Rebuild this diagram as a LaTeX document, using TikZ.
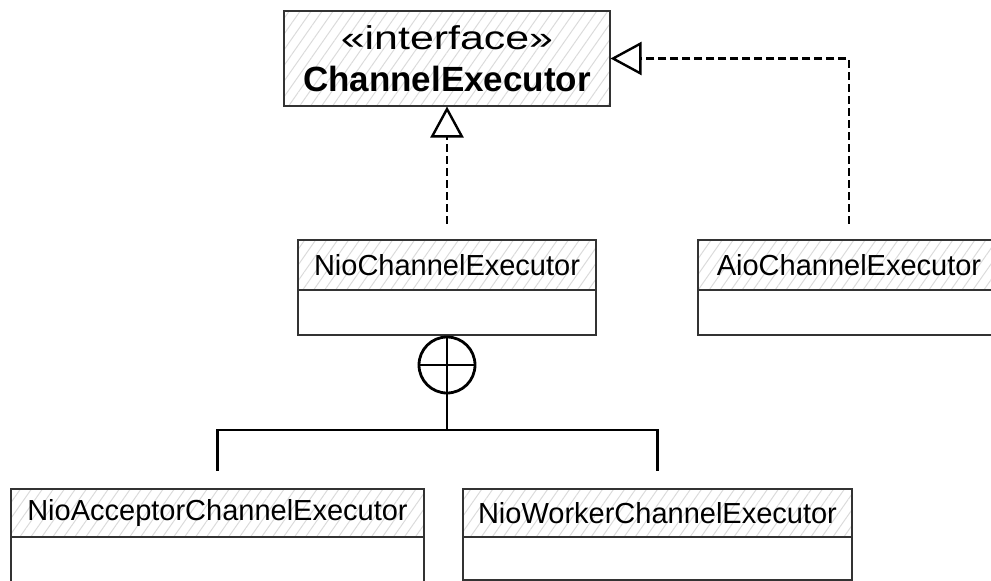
\documentclass[tikz,border=0pt]{standalone}
\usepackage{fontspec}
\setmainfont{Liberation Sans}
\usetikzlibrary{arrows.meta,patterns.meta}
\definecolor{edge}{HTML}{333333}
\tikzset{
  hdr/.style={draw=edge, line width=2.2pt, rectangle, inner sep=0pt,
    pattern={Lines[angle=55,distance=9pt,line width=1pt]}, pattern color=black!14,
    font=\fontsize{29}{32}\selectfont, text=black},
  bodybox/.style={draw=edge, line width=2.2pt, rectangle, inner sep=0pt, fill=white},
  realize/.style={draw=black, line width=2.2pt, dash pattern=on 8pt off 4pt,
    -{Triangle[open, length=31pt, width=33pt, line width=2.4pt]}},
  nest/.style={draw=black, line width=2.8pt}
}
\begin{document}
\begin{tikzpicture}[x=1pt,y=-1pt]
\useasboundingbox (0,0) rectangle (991,581);
% interface
\node[hdr, minimum width=326pt, minimum height=95pt, align=center] (iface) at (447,58.5)
  {\scalebox{1.3}[1]{\fontsize{33}{36}\selectfont «interface»}\\[10pt]
   {\fontsize{35}{38}\selectfont\bfseries ChannelExecutor}};
% NioChannelExecutor
\node[hdr, minimum width=298pt, minimum height=50pt] (nioH) at (447,265) {NioChannelExecutor};
\node[bodybox, minimum width=298pt, minimum height=45pt] (nioB) at (447,312.5) {};
% AioChannelExecutor
\node[hdr, minimum width=302pt, minimum height=50pt] (aioH) at (849,265) {AioChannelExecutor};
\node[bodybox, minimum width=302pt, minimum height=45pt] (aioB) at (849,312.5) {};
% NioAcceptorChannelExecutor
\node[hdr, minimum width=413pt, minimum height=48pt] (accH) at (217.5,513) {NioAcceptorChannelExecutor};
\node[bodybox, minimum width=413pt, minimum height=63pt] (accB) at (217.5,568.5) {};
% NioWorkerChannelExecutor
\node[hdr, minimum width=389pt, minimum height=48pt] (wrkH) at (657.5,513) {NioWorkerChannelExecutor};
\node[bodybox, minimum width=389pt, minimum height=43pt] (wrkB) at (657.5,558.5) {};
% realizations
\draw[realize, shorten <=15pt] (nioH.north) -- (iface.south);
\draw[realize, shorten <=15pt] (aioH.north) |- (iface.east);
% nesting
\node[nest, circle, minimum size=56pt, inner sep=0pt] (plus) at (447,365) {};
\draw[nest] (plus.north) -- (plus.south) (plus.west) -- (plus.east);
\coordinate (junc) at (447,430);
\draw[nest] (plus.south) -- (junc);
\draw[nest] ([yshift=17pt]accH.north) -- (accH.north |- junc) -- (wrkH.north |- junc) -- ([yshift=17pt]wrkH.north);
\end{tikzpicture}
\end{document}
